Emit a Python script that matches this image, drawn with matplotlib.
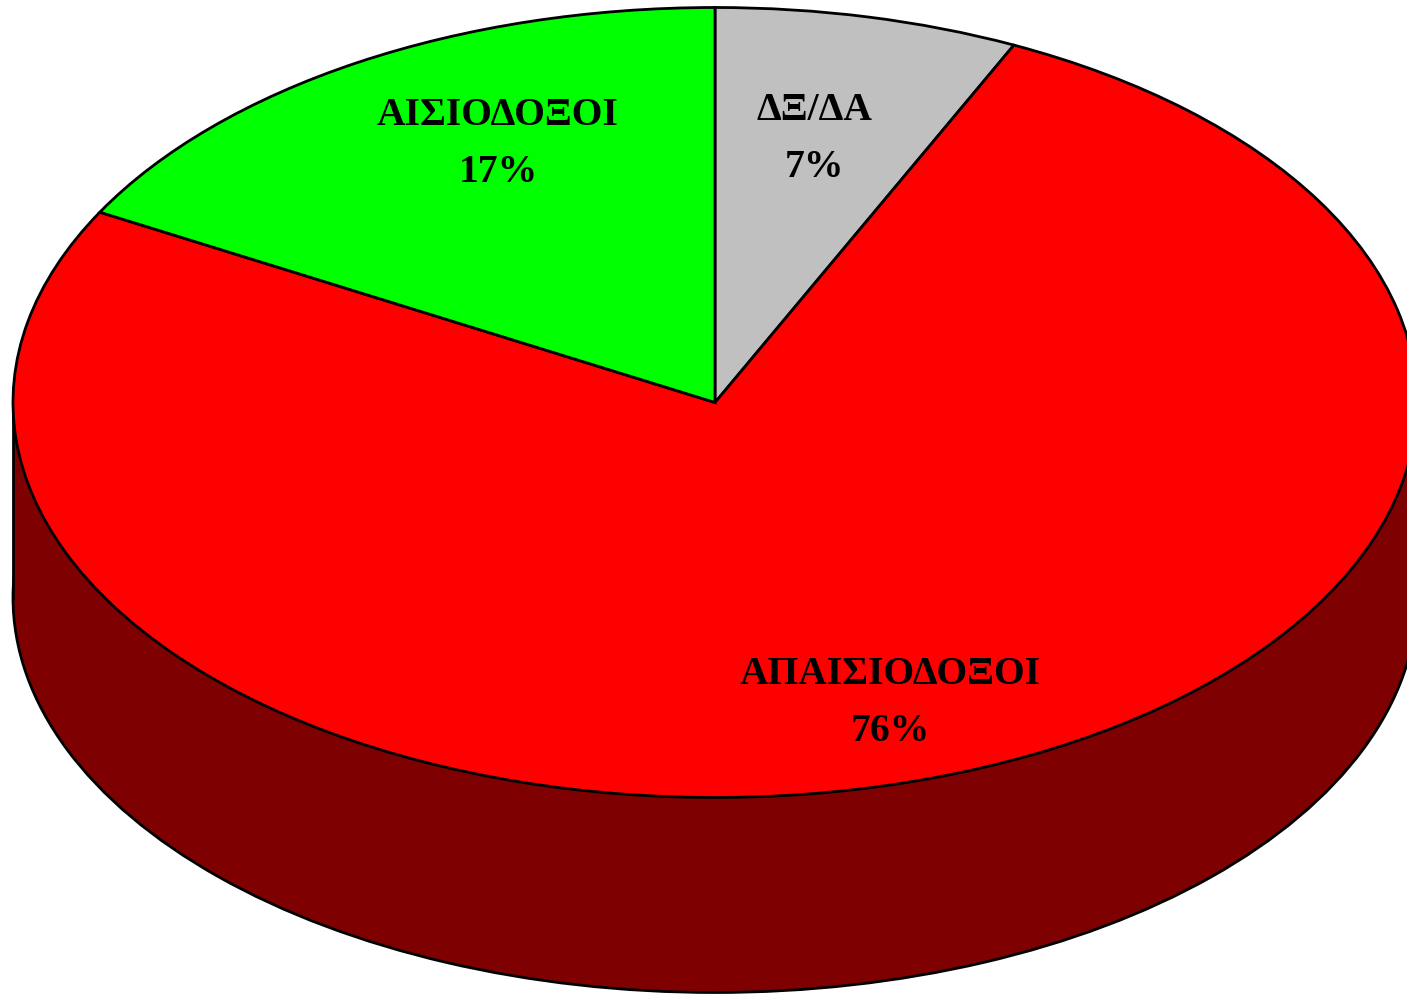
import matplotlib
matplotlib.use("Agg")
import matplotlib.pyplot as plt
from matplotlib.patches import Rectangle

# Τιμές της πίτας, δεξιόστροφα από την κορυφή
labels = ["ΔΞ/ΔΑ", "ΑΠΑΙΣΙΟΔΟΞΟΙ", "ΑΙΣΙΟΔΟΞΟΙ"]
values = [7, 76, 17]
colors = ["#c0c0c0", "#ff0000", "#00ff00"]
side_color = "#7f0000"

# pixel geometry of the reference
W, H = 1407, 995
cx, cy = 715, 403.5
rx, ry = 702, 395
depth = 195 / ry

fig = plt.figure(figsize=(W / 100, H / 100), dpi=100)
ax = fig.add_axes([0, 0, 1, 1])

edge = dict(edgecolor="black", linewidth=2)

# το πλάι της πίτας
ax.pie([1], colors=[side_color], center=(0, -depth), radius=1, wedgeprops=edge)
ax.add_patch(Rectangle((-1, -depth), 2, depth, facecolor=side_color, edgecolor="none", zorder=1.5))
ax.plot([-1, -1], [0, -depth], color="black", linewidth=2, zorder=1.6)
ax.plot([1, 1], [0, -depth], color="black", linewidth=2, zorder=1.6)

# η πάνω επιφάνεια
wedges, _ = ax.pie(values, colors=colors, startangle=90, counterclock=False, radius=1, wedgeprops=edge)
for w in wedges:
    w.set_zorder(2)


def to_data(px, py):
    return (px - cx) / rx, (cy - py) / ry


label_pos = [(814, 139), (890, 703), (498, 144)]
for name, v, (px, py) in zip(labels, values, label_pos):
    x, y = to_data(px, py)
    ax.text(x, y, f"{name}\n{v}%", ha="center", va="center", fontsize=28.5, fontweight="bold",
            family="Liberation Serif", color="black", linespacing=1.68, zorder=3)

ax.set_aspect("auto")
ax.set_xlim((0 - cx) / rx, (W - cx) / rx)
ax.set_ylim((cy - H) / ry, cy / ry)
ax.axis("off")

fig.savefig("out.png", dpi=100, facecolor="white")
